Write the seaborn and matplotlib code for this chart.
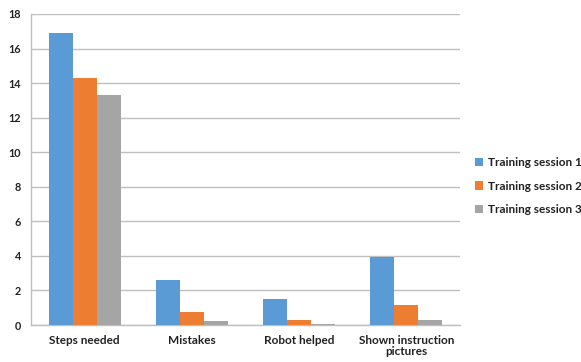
import matplotlib
matplotlib.use("Agg")
import matplotlib.pyplot as plt
import numpy as np
import pandas as pd
import seaborn as sns

categories = ["Steps needed", "Mistakes", "Robot helped", "Shown instruction\npictures"]
sessions = ["Training session 1", "Training session 2", "Training session 3"]
session1 = [16.9, 2.6, 1.5, 3.95]
session2 = [14.3, 0.78, 0.3, 1.17]
session3 = [13.3, 0.25, 0.05, 0.27]
colors = ["#5B9BD5", "#ED7D31", "#A5A5A5"]

rows = []
for name, vals in zip(sessions, [session1, session2, session3]):
    for cat, v in zip(categories, vals):
        rows.append({"category": cat, "session": name, "value": v})
df = pd.DataFrame(rows)

sns.set_style("white")
plt.rcParams["font.family"] = ["Lato", "DejaVu Sans"]
plt.rcParams["font.weight"] = "bold"

fig = plt.figure(figsize=(5.81, 3.62), dpi=100)
ax = fig.add_axes([31 / 581, 1 - 325 / 362, (460 - 31) / 581, (325 - 14) / 362])

sns.barplot(data=df, x="category", y="value", hue="session", palette=colors,
            width=0.67, gap=0, saturation=1, linewidth=0, edgecolor="none",
            ax=ax, legend=True, zorder=3)

ax.set_ylim(0, 18)
ax.set_xlim(-0.5, 3.5)
ax.set_yticks(np.arange(0, 19, 2))
ax.yaxis.grid(True, color="#BFBFBF", linewidth=1, zorder=0)
ax.set_axisbelow(True)
ax.set_xlabel("")
ax.set_ylabel("")
for s in ["top", "right"]:
    ax.spines[s].set_visible(False)
for s in ["left", "bottom"]:
    ax.spines[s].set_color("#BFBFBF")
    ax.spines[s].set_linewidth(1)

ax.tick_params(axis="y", length=3, color="#BFBFBF", labelsize=7.8, pad=4, labelcolor="#222222")
ax.tick_params(axis="x", which="major", length=0, labelsize=8.5, pad=7, labelcolor="#222222")
ax.set_xticks([-0.5, 0.5, 1.5, 2.5, 3.5], minor=True)
ax.tick_params(axis="x", which="minor", length=4, color="#BFBFBF", direction="out")
for lab in ax.get_xticklabels() + ax.get_yticklabels():
    lab.set_fontweight("bold")
for lab in ax.get_xticklabels():
    lab.set_linespacing(1.0)

handles, labels = ax.get_legend_handles_labels()
ax.get_legend().remove()
leg = fig.legend(handles, labels, loc="center left", bbox_to_anchor=(475 / 581, 1 - 186 / 362),
                 frameon=False, handlelength=0.7, handleheight=0.7, handletextpad=0.4,
                 labelspacing=1.05, borderaxespad=0, borderpad=0,
                 prop={"weight": "bold", "size": 8.5})
for t in leg.get_texts():
    t.set_color("#222222")

fig.savefig("out.png", dpi=100)
